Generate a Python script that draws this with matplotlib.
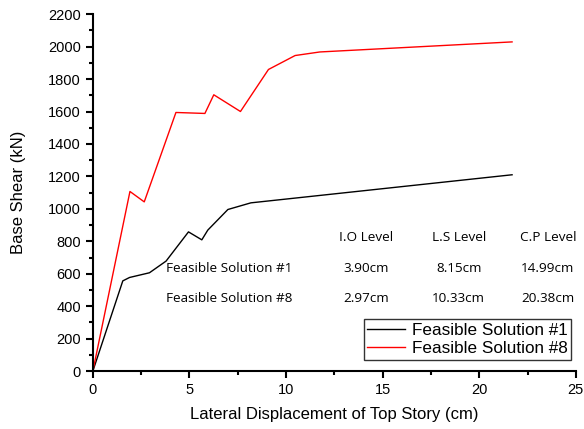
import matplotlib.pyplot as plt
from matplotlib.ticker import MultipleLocator

# pushover curves: lateral displacement of top story (cm) vs base shear (kN)
disp_fs1 = [0, 1.55, 1.90, 2.93, 3.79, 4.95, 5.64, 5.95, 6.99, 8.18, 21.7]
shear_fs1 = [0, 556, 577, 606, 678, 858, 809, 869, 996, 1037, 1210]

disp_fs8 = [0, 1.92, 2.66, 4.30, 5.80, 6.26, 7.64, 9.09, 10.47, 11.75, 21.7]
shear_fs8 = [0, 1107, 1043, 1594, 1588, 1703, 1600, 1859, 1945, 1967, 2029]

levels = ['I.O Level', 'L.S Level', 'C.P Level']
row_names = ['Feasible Solution #1', 'Feasible Solution #8']
row_values = [['3.90cm', '8.15cm', '14.99cm'],
              ['2.97cm', '10.33cm', '20.38cm']]

plt.rcParams['font.family'] = ['Liberation Sans', 'DejaVu Sans']

fig = plt.figure(figsize=(5.84, 4.29), dpi=100)
ax = fig.add_axes([0.159, 0.135, 0.827, 0.832])

ax.plot(disp_fs1, shear_fs1, color='black', lw=1, label='Feasible Solution #1')
ax.plot(disp_fs8, shear_fs8, color='red', lw=1, label='Feasible Solution #8')

ax.set_xlim(0, 25)
ax.set_ylim(0, 2200)
ax.xaxis.set_major_locator(MultipleLocator(5))
ax.xaxis.set_minor_locator(MultipleLocator(2.5))
ax.yaxis.set_major_locator(MultipleLocator(200))
ax.yaxis.set_minor_locator(MultipleLocator(100))
for s in ['top', 'right']:
    ax.spines[s].set_visible(False)
for s in ['left', 'bottom']:
    ax.spines[s].set_linewidth(1.5)
ax.tick_params(which='major', direction='out', length=5, width=1.5, labelsize=10.5)
ax.tick_params(which='minor', direction='out', length=3, width=1.5)

ax.set_xlabel('Lateral Displacement of Top Story (cm)', fontsize=12, labelpad=7)
ax.set_ylabel('Base Shear (kN)', fontsize=12, labelpad=16)

# performance level table
col_x = [14.13, 18.94, 23.55]
table_font = ['Open Sans', 'DejaVu Sans']
for cx, name in zip(col_x, levels):
    ax.text(cx, 826, name, ha='center', va='center', fontsize=9.7, family=table_font)
for ry, rname, vals in zip([635, 450], row_names, row_values):
    ax.text(3.78, ry, rname, ha='left', va='center', fontsize=9.7, family=table_font)
    for cx, v in zip(col_x, vals):
        ax.text(cx, ry, v, ha='center', va='center', fontsize=9.7, family=table_font)

leg = ax.legend(loc='lower right', bbox_to_anchor=(0.99, 0.032), fontsize=12.3,
                frameon=True, fancybox=False, edgecolor='black',
                handlelength=2.2, handletextpad=0.4, borderpad=0.2,
                labelspacing=0.2, borderaxespad=0)
leg.get_frame().set_linewidth(1)

fig.savefig('out.png')
